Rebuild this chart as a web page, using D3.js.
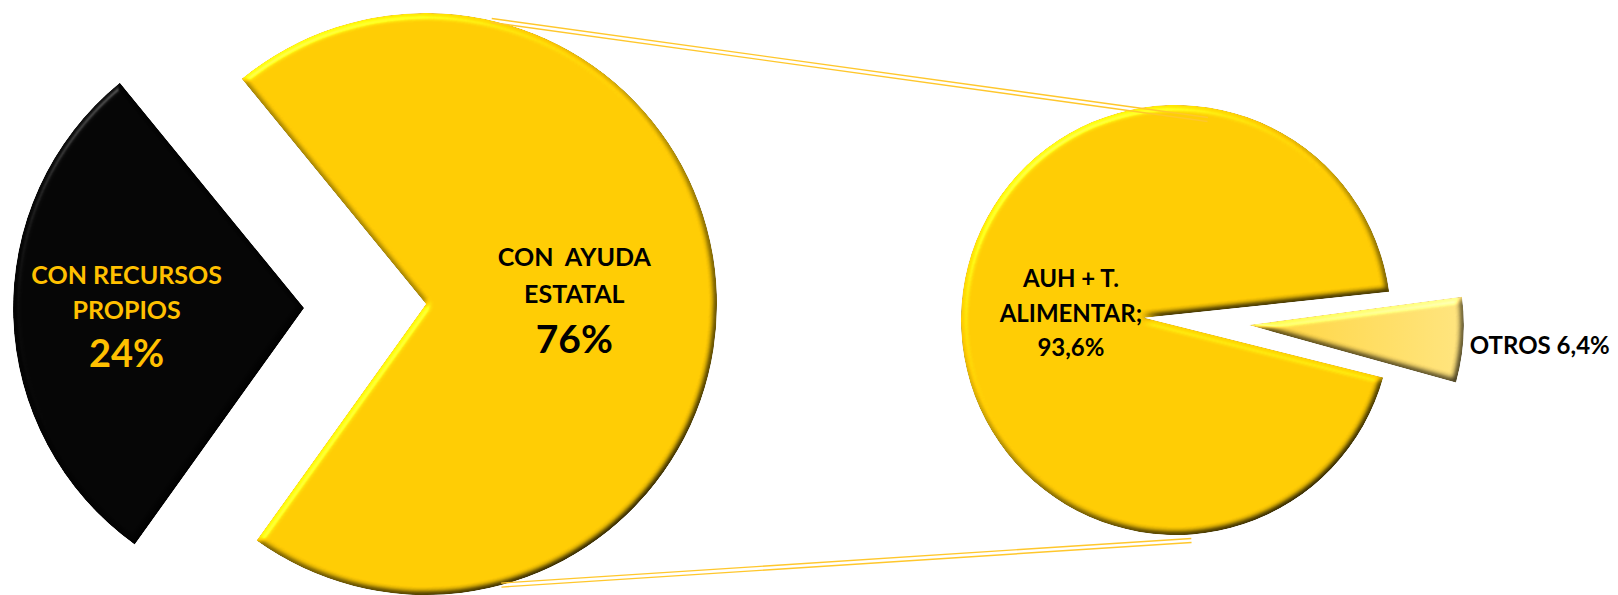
<!DOCTYPE html>
<html>
<head>
<meta charset="utf-8">
<script src="https://cdn.jsdelivr.net/npm/d3@7"></script>
<style>
	body { margin: 0; background: #fff; }
	svg { display: block; }
	text { font-family: Lato, "Open Sans", sans-serif; font-weight: 700; }
</style>
</head>
<body>
<svg id="chart" width="1618" height="595"></svg>
<script>
// main pie
var mainNames = ["CON RECURSOS PROPIOS", "CON AYUDA ESTATAL"];
var mainPct = ["24%", "76%"];
var mainShare = [29.2, 70.8]; // angle of each slice as it is drawn in the picture
var mainColors = ["#040404", "#FFCB03"];

// second pie (breakdown of CON AYUDA ESTATAL)
var subNames = ["AUH + T. ALIMENTAR", "OTROS"];
var subPct = ["93,6%", "6,4%"];
var subShare = [93.6, 6.4];
var subColors = ["#FFCB03", "url(#otrosGrad)"];

var rad = Math.PI / 180;

function FDGPie() {
	var svg = d3.select("#chart");

	var defs = svg.append("defs");

	// soft bevel, light from upper left
	var f = defs.append("filter").attr("id", "bevel")
		.attr("color-interpolation-filters", "sRGB")
		.attr("x", "-5%").attr("y", "-5%").attr("width", "110%").attr("height", "110%");
	f.append("feGaussianBlur").attr("in", "SourceAlpha").attr("stdDeviation", 3).attr("result", "blur");
	f.append("feDiffuseLighting").attr("in", "blur").attr("surfaceScale", 4).attr("diffuseConstant", 1)
		.attr("lighting-color", "#fff").attr("result", "diff")
		.append("feDistantLight").attr("azimuth", 235).attr("elevation", 55);
	f.append("feComposite").attr("in", "SourceGraphic").attr("in2", "diff")
		.attr("operator", "arithmetic").attr("k1", 1.22).attr("k2", 0).attr("k3", 0).attr("k4", 0).attr("result", "lit");
	f.append("feSpecularLighting").attr("in", "blur").attr("surfaceScale", 4).attr("specularConstant", 0.6)
		.attr("specularExponent", 35).attr("lighting-color", "#fff").attr("result", "spec")
		.append("feDistantLight").attr("azimuth", 235).attr("elevation", 40);
	f.append("feComposite").attr("in", "spec").attr("in2", "SourceAlpha").attr("operator", "in").attr("result", "specIn");
	f.append("feComposite").attr("in", "lit").attr("in2", "specIn")
		.attr("operator", "arithmetic").attr("k1", 0).attr("k2", 1).attr("k3", 0.45).attr("k4", 0).attr("result", "all");
	f.append("feComposite").attr("in", "all").attr("in2", "SourceAlpha").attr("operator", "in");

	var g = defs.append("linearGradient").attr("id", "otrosGrad")
		.attr("x1", "0%").attr("x2", "100%").attr("y1", "0%").attr("y2", "0%");
	g.append("stop").attr("offset", "0%").attr("stop-color", "#FFD23A");
	g.append("stop").attr("offset", "100%").attr("stop-color", "#FFE37E");

	var mainC = [426, 304], mainR = 291;
	var subC = [1176, 320], subR = 215;

	var mainPie = d3.pie().sort(null).startAngle(215.6 * rad).endAngle(215.6 * rad + 2 * Math.PI);
	var subPie = d3.pie().sort(null).startAngle(105.5 * rad).endAngle(105.5 * rad + 2 * Math.PI);

	var mainArcs = mainPie(mainShare);
	var subArcs = subPie(subShare);

	// explode: [apex shift, arc shift]
	var mainExplode = [[122, 122], [0, 0]];
	var subExplode = [[32, 0], [73, 73]];

	function dir(d) {
		var m = (d.startAngle + d.endAngle) / 2;
		return [Math.sin(m), -Math.cos(m)];
	}

	function slicePath(c, r, d, ex) {
		var u = dir(d);
		var p = d3.path();
		p.moveTo(c[0] + u[0] * ex[0], c[1] + u[1] * ex[0]);
		p.arc(c[0] + u[0] * ex[1], c[1] + u[1] * ex[1], r, d.startAngle - Math.PI / 2, d.endAngle - Math.PI / 2);
		p.closePath();
		return p.toString();
	}

	svg.append("g").attr("class", "main")
		.selectAll("path")
		.data(mainArcs)
		.enter().append("path")
		.attr("d", function(d, i) { return slicePath(mainC, mainR, d, mainExplode[i]); })
		.attr("fill", function(d, i) { return mainColors[i]; })
		.attr("filter", "url(#bevel)");

	svg.append("g").attr("class", "sub")
		.selectAll("path")
		.data(subArcs)
		.enter().append("path")
		.attr("d", function(d, i) { return slicePath(subC, subR, d, subExplode[i]); })
		.attr("fill", function(d, i) { return subColors[i]; })
		.attr("filter", "url(#bevel)");

	// connector lines (double line)
	var links = [
		[mainC[0] + mainR * Math.sin(13 * rad), mainC[1] - mainR * Math.cos(13 * rad),
		 subC[0] + (subR - 12) * Math.sin(9 * rad), subC[1] - (subR - 12) * Math.cos(9 * rad)],
		[mainC[0] + mainR * Math.sin(165 * rad), mainC[1] - mainR * Math.cos(165 * rad),
		 subC[0] + (subR + 6) * Math.sin(176 * rad), subC[1] - (subR + 6) * Math.cos(176 * rad)]
	];
	var lg = svg.append("g").attr("class", "links");
	links.forEach(function(l) {
		var dx = l[2] - l[0], dy = l[3] - l[1], len = Math.sqrt(dx * dx + dy * dy);
		var nx = -dy / len * 2, ny = dx / len * 2;
		[-1, 1].forEach(function(s) {
			lg.append("line")
				.attr("x1", l[0] + nx * s).attr("y1", l[1] + ny * s)
				.attr("x2", l[2] + nx * s).attr("y2", l[3] + ny * s)
				.attr("stroke", "#FFC72C").attr("stroke-width", 1.4);
		});
	});

	// labels
	function block(x, y, lines, color) {
		var t = svg.append("g");
		lines.forEach(function(ln) {
			t.append("text")
				.attr("x", x).attr("y", y + ln[1])
				.attr("text-anchor", "middle")
				.attr("font-size", ln[2])
				.attr("fill", color)
				.text(ln[0]);
		});
	}

	var u0 = dir(mainArcs[0]);
	block(mainC[0] + u0[0] * (122 + 0.61 * mainR), mainC[1] + u0[1] * 122,
		[["CON RECURSOS", -24, 25], ["PROPIOS", 11, 25], [mainPct[0], 59, 38]], "#FFC000");

	var u1 = dir(mainArcs[1]);
	block(mainC[0] + u1[0] * 0.51 * mainR, mainC[1],
		[["CON\u00a0\u00a0AYUDA", -38, 25], ["ESTATAL", -1, 25], [mainPct[1], 49, 39]], "#000");

	var s0 = dir(subArcs[0]);
	block(subC[0] + s0[0] * 0.49 * subR, subC[1],
		[["AUH + T.", -33, 24], ["ALIMENTAR;", 2, 24], [subPct[0], 36, 24]], "#000");

	var s1 = dir(subArcs[1]);
	svg.append("text")
		.attr("x", subC[0] + s1[0] * 73 + subR + 6)
		.attr("y", subC[1] + 34)
		.attr("font-size", 24)
		.attr("fill", "#000")
		.text(subNames[1] + " " + subPct[1]);
}

FDGPie();
</script>
</body>
</html>
